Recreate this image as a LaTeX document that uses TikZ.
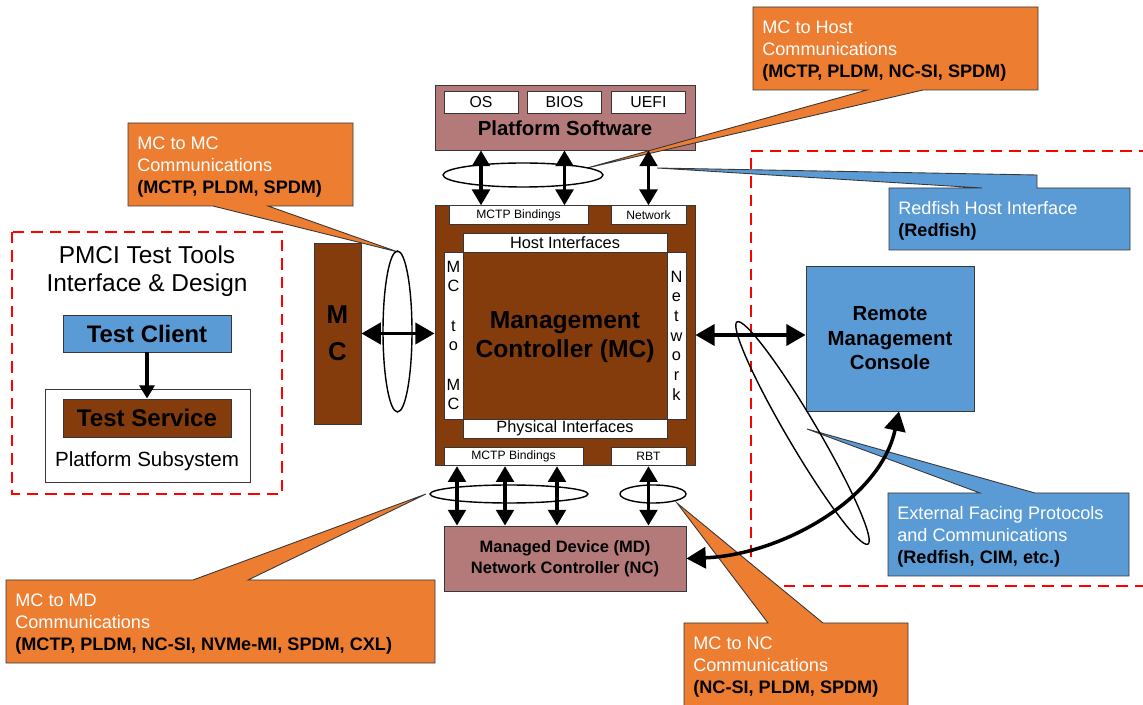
\documentclass[tikz,border=0pt]{standalone}
\usepackage{fontspec}
\setmainfont{Liberation Sans}
\usetikzlibrary{arrows.meta}
\definecolor{calloutorange}{RGB}{237,125,49}
\definecolor{calloutblue}{RGB}{91,155,213}
\definecolor{mcbrown}{RGB}{132,60,12}
\definecolor{swpink}{RGB}{180,122,122}
\definecolor{edgegray}{RGB}{55,55,55}

\begin{document}
\begin{tikzpicture}[x=0.02cm,y=-0.02cm,
		box/.style={draw=edgegray,line width=0.5pt,inner sep=0pt},
		whitebox/.style={box,fill=white},
		tag/.style={whitebox,font=\fontsize{6.9}{8}\selectfont,minimum height=0.37cm},
		iface/.style={whitebox,font=\fontsize{9.3}{11.2}\selectfont,align=center},
		callout/.style={draw=edgegray,line width=0.5pt},
		calltext/.style={anchor=west,align=left,inner sep=0pt,text=white,font=\fontsize{10.3}{12.5}\selectfont},
		link/.style={line width=2.1pt,arrows={Triangle[length=9pt,width=10pt]-Triangle[length=9pt,width=10pt]}},
		biglink/.style={line width=2.2pt,arrows={Triangle[length=11pt,width=12pt]-Triangle[length=11pt,width=12pt]}},
		ring/.style={draw,line width=0.8pt},
		zone/.style={draw=red,line width=1.1pt,dash pattern=on 6.5pt off 4pt}]
	\useasboundingbox (0,0) rectangle (1143,705);

	% dashed zones
	\draw[zone] (12,232) rectangle (282,494);
	\draw[zone] (1150,151) -- (751,151) -- (751,586) -- (1150,586);

	% platform software
	\node[box,fill=swpink,minimum width=5.2cm,minimum height=1.3cm] (ps) at (565,117.5) {};
	\node[font=\bfseries\fontsize{11.6}{14}\selectfont] (pslabel) at (565,128) {Platform Software};
	\foreach \name/\x/\txt in {os/481/OS,bios/564.5/BIOS,uefi/648.5/UEFI}{
			\node[whitebox,font=\fontsize{9}{11}\selectfont,minimum width=1.48cm,minimum height=0.44cm] (\name) at (\x,102) {\txt};
		}

	% management controller
	\node[box,fill=mcbrown,minimum width=5.2cm,minimum height=5.2cm] (mc) at (565,335) {};
	\node[tag,minimum width=2.78cm] (topbind) at (518.5,215) {MCTP Bindings};
	\node[tag,minimum width=1.5cm] (topnet) at (648.5,215) {Network};
	\node[tag,minimum width=2.78cm] (botbind) at (513.5,456.5) {MCTP Bindings};
	\node[tag,minimum width=1.5cm] (rbt) at (648.5,456.5) {RBT};
	\node[iface,minimum width=4.08cm,minimum height=0.38cm] (hostif) at (565,242.5) {Host Interfaces};
	\node[iface,minimum width=4.08cm,minimum height=0.38cm] (phyif) at (565,428.5) {Physical Interfaces};
	\node[iface,minimum width=0.38cm,minimum height=3.34cm] (mctomc) at (453.5,335.5) {M\\C\\\mbox{}\\t\\o\\\mbox{}\\M\\C};
	\node[iface,minimum width=0.38cm,minimum height=3.34cm] (netv) at (676.5,335.5) {N\\e\\t\\w\\o\\r\\k};
	\node[font=\bfseries\fontsize{14}{16.5}\selectfont,align=center] (mclabel) at (565,337) {Management\\Controller (MC)};

	% other controller, console, managed device
	\node[box,fill=mcbrown,minimum width=0.94cm,minimum height=3.62cm,font=\bfseries\fontsize{14.7}{21}\selectfont,align=center] (mcl) at (337.5,333.5) {M\\C};
	\node[box,fill=calloutblue,minimum width=3.36cm,minimum height=2.9cm,font=\bfseries\fontsize{11.6}{13.9}\selectfont,align=center] (rmc) at (890,338.5) {Remote\\Management\\Console};
	\node[box,fill=swpink,minimum width=4.84cm,minimum height=1.3cm,font=\bfseries\fontsize{9.4}{11.9}\selectfont,align=center] (md) at (565,558.5) {Managed Device (MD)\\Network Controller (NC)};

	% test tools
	\node[font=\fontsize{13.9}{15.9}\selectfont,align=center] (pmci) at (147,271) {PMCI Test Tools\\Interface \& Design};
	\node[box,fill=calloutblue,minimum width=3.36cm,minimum height=0.74cm,font=\bfseries\fontsize{13.6}{16}\selectfont] (tc) at (147,333.5) {Test Client};
	\node[whitebox,minimum width=4.1cm,minimum height=1.86cm] (psub) at (147.5,435.5) {};
	\node[box,fill=mcbrown,minimum width=3.36cm,minimum height=0.76cm,font=\bfseries\fontsize{13.7}{16}\selectfont] (ts) at (147,418) {Test Service};
	\node[font=\fontsize{11.7}{14}\selectfont] (psublabel) at (147,461) {Platform Subsystem};

	% callouts
	\draw[callout,fill=calloutorange] (753,7) -- (1038,7) -- (1038,90) -- (923,90) -- (587,168) -- (867,90) -- (753,90) -- cycle;
	\node[calltext] (hostcall) at (762,51.5) {MC to Host\\Communications\\\textcolor{black}{\bfseries (MCTP, PLDM, NC-SI, SPDM)}};
	\draw[callout,fill=calloutorange] (128,123) -- (353,123) -- (353,206) -- (268,206) -- (398,252) -- (213,206) -- (128,206) -- cycle;
	\node[calltext] (mccall) at (137,167) {MC to MC\\Communications\\\textcolor{black}{\bfseries (MCTP, PLDM, SPDM)}};
	\draw[callout,fill=calloutblue] (889,188) -- (982,188) -- (657,168) -- (1037,175) -- (1037,188) -- (1130,188) -- (1130,250) -- (889,250) -- cycle;
	\node[calltext] (rhicall) at (898,220.5) {Redfish Host Interface\\\textcolor{black}{\bfseries (Redfish)}};
	\draw[callout,fill=calloutblue] (888,493) -- (980,493) -- (807,429) -- (1035,493) -- (1129,493) -- (1129,576) -- (888,576) -- cycle;
	\node[calltext] (extcall) at (897,537) {External Facing Protocols\\and Communications\\\textcolor{black}{\bfseries (Redfish, CIM, etc.)}};
	\draw[callout,fill=calloutorange] (6,580) -- (193,580) -- (426,494) -- (248,580) -- (435,580) -- (435,663) -- (6,663) -- cycle;
	\node[calltext] (mdcall) at (15,624) {MC to MD\\Communications\\\textcolor{black}{\bfseries (MCTP, PLDM, NC-SI, NVMe-MI, SPDM, CXL)}};
	\draw[callout,fill=calloutorange] (684,623) -- (768,623) -- (677,503) -- (823,623) -- (908,623) -- (908,712) -- (684,712) -- cycle;
	\node[calltext] (nccall) at (693,667) {MC to NC\\Communications\\\textcolor{black}{\bfseries (NC-SI, PLDM, SPDM)}};

	% bus rings
	\draw[ring] (523,175) ellipse [x radius=1.6cm, y radius=0.24cm];
	\draw[ring] (397.5,331.5) ellipse [x radius=0.29cm, y radius=1.61cm];
	\draw[ring] (509,494) ellipse [x radius=1.58cm, y radius=0.18cm];
	\draw[ring] (653,494) ellipse [x radius=0.66cm, y radius=0.18cm];
	\draw[ring,rotate around={-59.5:(802.5,433)}] (802.5,433) ellipse [x radius=2.58cm, y radius=0.3cm];

	% connectors
	\foreach \part in {os,bios}{
			\draw[link] (\part |- ps.south) -- (\part |- topbind.north);
		}
	\draw[link] (topnet.north |- ps.south) -- (topnet.north);
	\foreach \x in {457,505,557}{
			\draw[link] (botbind.south -| \x,0) -- (md.north -| \x,0);
		}
	\draw[link] (rbt.south) -- (rbt.south |- md.north);
	\draw[biglink] (mcl.east) -- (mcl.east -| mc.west);
	\draw[biglink] (mc.east) -- (mc.east -| rmc.west);
	\draw[line width=1.8pt,-{Triangle[length=7.5pt,width=8.5pt]}] (tc) -- (ts);
	\draw[biglink,line width=2pt] (md.east) .. controls (780,555) and (880,500) .. ([xshift=0.18cm]rmc.south);
\end{tikzpicture}
\end{document}
